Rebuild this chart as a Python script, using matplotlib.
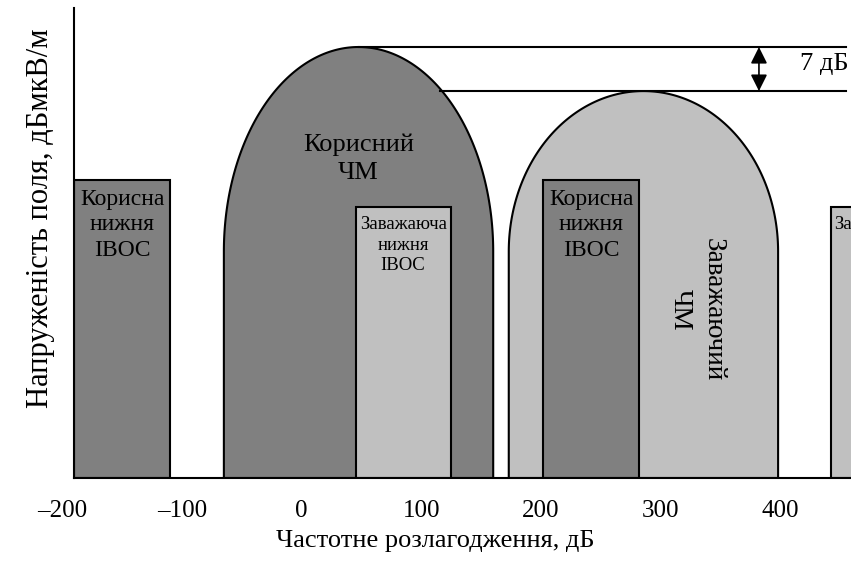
import numpy as np
import matplotlib
matplotlib.use('Agg')
import matplotlib.pyplot as plt
from matplotlib.patches import Polygon, Rectangle

plt.rcParams['font.family'] = ['Liberation Serif', 'DejaVu Serif']

# FM channels (arches): left, right, top level, shoulder level
fm_labels = ['Корисний\nЧМ', 'Заважаючий\nЧМ']
fm_left = [-65, 173]
fm_right = [160, 398]
fm_top = [68.5, 61.5]
fm_shoulder = 36.0
fm_colors = ['#808080', '#c0c0c0']

# IBOC sidebands (rectangles)
iboc_labels = ['Корисна\nнижня\nIBOC', 'Заважаюча\nнижня\nIBOC',
               'Корисна\nнижня\nIBOC', 'Заважаюча\nнижня\nIBOC']
iboc_left = [-190, 45, 202, 442]
iboc_right = [-110, 124.5, 282, 521]
iboc_top = [47.4, 43.1, 47.4, 43.1]
iboc_colors = ['#808080', '#c0c0c0', '#808080', '#c0c0c0']
iboc_fontsize = [17, 13.5, 17, 13.5]

x_ticks = [-200, -100, 0, 100, 200, 300, 400]
x_ticklabels = ['\u2013200', '\u2013100', '0', '100', '200', '300', '400']
delta_db = 7


def arch(left, right, top, shoulder):
    c = (left + right) / 2
    a = (right - left) / 2
    b = top - shoulder
    t = np.linspace(np.pi, 0, 200)
    pts = [(left, 0), (left, shoulder)]
    pts += list(zip(c + a * np.cos(t), shoulder + b * np.sin(t)))
    pts += [(right, shoulder), (right, 0)]
    return pts


fig = plt.figure(figsize=(8.51, 5.65), dpi=100)
ax = fig.add_axes([74 / 851, (565 - 478) / 565, 777 / 851, 470 / 565])

def draw_iboc(i):
    ax.add_patch(Rectangle((iboc_left[i], 0), iboc_right[i] - iboc_left[i], iboc_top[i],
                           facecolor=iboc_colors[i], edgecolor='black', lw=1.5, zorder=2))
    cx = (iboc_left[i] + iboc_right[i]) / 2
    ax.text(cx, iboc_top[i] - 1.4, iboc_labels[i], ha='center', va='top',
            fontsize=iboc_fontsize[i], linespacing=1.3, zorder=5)

# left wanted IBOC
draw_iboc(0)

# wanted FM
ax.add_patch(Polygon(arch(fm_left[0], fm_right[0], fm_top[0], fm_shoulder),
                     closed=True, facecolor=fm_colors[0], edgecolor='black', lw=1.5, zorder=2))
ax.text((fm_left[0] + fm_right[0]) / 2, 50.7, fm_labels[0], ha='center', va='center',
        fontsize=19, linespacing=1.35, zorder=5)
draw_iboc(1)

# interfering FM
ax.add_patch(Polygon(arch(fm_left[1], fm_right[1], fm_top[1], fm_shoulder),
                     closed=True, facecolor=fm_colors[1], edgecolor='black', lw=1.5, zorder=2))
ax.text(330, 26.7, fm_labels[1], ha='center', va='center', rotation=270,
        fontsize=19.5, linespacing=1.45, zorder=5)
draw_iboc(2)
draw_iboc(3)

# reference lines and 7 dB marker
c0 = (fm_left[0] + fm_right[0]) / 2
ax.plot([c0, 454.4], [fm_top[0], fm_top[0]], color='black', lw=1.5, zorder=3)
ax.plot([115.5, 454.4], [fm_top[1], fm_top[1]], color='black', lw=1.5, zorder=3)
ax.annotate('', xy=(382, fm_top[0]), xytext=(382, fm_top[1]),
            arrowprops=dict(arrowstyle='<|-|>', color='black', lw=1.2,
                            mutation_scale=25, shrinkA=0, shrinkB=0), zorder=4)
ax.text(416, (fm_top[0] + fm_top[1]) / 2 + 0.8, f'{delta_db} дБ', ha='left', va='center', fontsize=19)

for s in ['top', 'right']:
    ax.spines[s].set_visible(False)
for s in ['left', 'bottom']:
    ax.spines[s].set_linewidth(1.5)
    ax.spines[s].set_zorder(6)
ax.set_yticks([])
ax.set_xticks(x_ticks[1:])
ax.set_xticklabels(x_ticklabels[1:], fontsize=18)
ax.tick_params(axis='x', length=0, pad=16)
# first tick lies left of the y axis, outside the view
ax.text(x_ticks[0], -(500 - 478) / 470, x_ticklabels[0], transform=ax.get_xaxis_transform(),
        ha='center', va='top', fontsize=18, clip_on=False)

ax.set_xlim(-190.2, 458.9)
ax.set_ylim(0, 74.7)

ax.set_xlabel('Частотне розлагодження, дБ', fontsize=19)
ax.xaxis.set_label_coords((435 - 74) / 777, -(530 - 478) / 470)
ax.set_ylabel('Напруженість поля, дБмкВ/м', fontsize=22)
ax.yaxis.set_label_coords(-(74 - 55) / 777, (478 - 218) / 470)

fig.savefig('out.png', dpi=100)
